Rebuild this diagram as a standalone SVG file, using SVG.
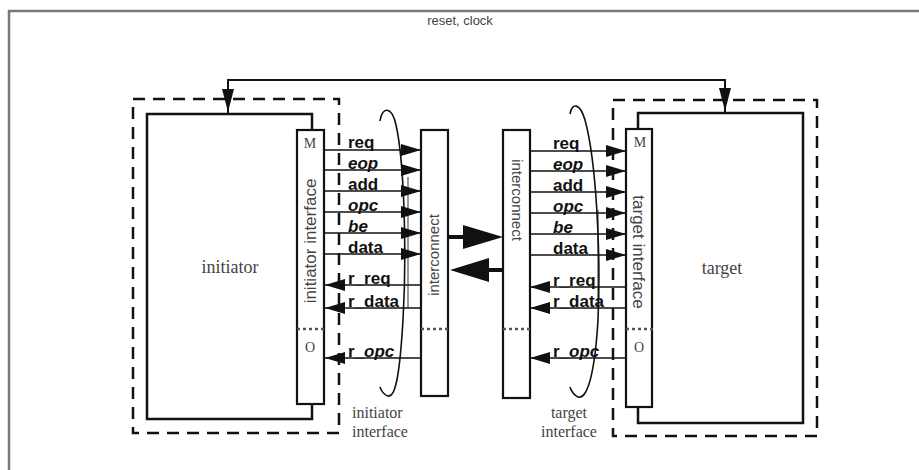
<svg xmlns="http://www.w3.org/2000/svg" width="919" height="470" viewBox="0 0 919 470">
<defs>
<marker id="ah" markerUnits="userSpaceOnUse" markerWidth="20" markerHeight="12" refX="20" refY="6" orient="auto">
<path d="M0,0 L20,6 L0,12 z" fill="#111"/>
</marker>
</defs>
<style>
.box{fill:#fff;stroke:#111;stroke-width:2.5}
.ifc{fill:#fff;stroke:#111;stroke-width:2.2}
.dash{fill:none;stroke:#111;stroke-width:2.5;stroke-dasharray:12 8}
.sig{stroke:#111;stroke-width:1.6;fill:none;marker-end:url(#ah)}
.lbl{font-family:"Liberation Sans",Arial,sans-serif;font-weight:bold;font-size:17px;fill:#111}
.ser{font-family:"Liberation Serif","Times New Roman",serif;fill:#444}
.sans{font-family:"Liberation Sans",Arial,sans-serif;fill:#444}
.dot{stroke:#555;stroke-width:2.5;stroke-dasharray:3 3}
.gray{stroke:#777;stroke-width:1.5}
.curve{fill:none;stroke:#111;stroke-width:1.6}
</style>
<rect width="919" height="470" fill="#fff"/>
<path d="M9,470 L9,11 L919,11" fill="none" stroke="#777" stroke-width="2.5"/>
<text class="sans" x="460" y="25" font-size="13" text-anchor="middle">reset, clock</text>

<g id="initiator-domain">
<rect class="dash" x="133" y="99" width="206" height="334"/>
</g>
<g id="target-domain">
<rect class="dash" x="613" y="100" width="204" height="336"/>
</g>

<g id="initiator">
<rect class="box" x="147" y="114" width="165" height="305"/>
<text class="ser" x="230" y="273" font-size="18" text-anchor="middle">initiator</text>
</g>
<g id="initiator-interface">
<rect class="ifc" x="297" y="130" width="27" height="274"/>
<text class="ser" x="310" y="148" font-size="14" text-anchor="middle">M</text>
<text class="ser" x="310" y="352" font-size="14" text-anchor="middle">O</text>
<text class="sans" transform="translate(316,241) rotate(-90)" font-size="17" text-anchor="middle">initiator interface</text>
<line class="dot" x1="297" y1="329" x2="325" y2="329"/>
</g>

<g id="target">
<rect class="box" x="638" y="113" width="165" height="310"/>
<text class="ser" x="722" y="274" font-size="18" text-anchor="middle">target</text>
</g>
<g id="target-interface">
<rect class="ifc" x="626" y="129" width="26" height="278"/>
<text class="ser" x="640" y="147" font-size="14" text-anchor="middle">M</text>
<text class="ser" x="639" y="352" font-size="14" text-anchor="middle">O</text>
<text class="sans" transform="translate(633,252) rotate(90)" font-size="17" text-anchor="middle">target interface</text>
<line class="dot" x1="626" y1="329" x2="653" y2="329"/>
</g>

<g id="interconnect-left">
<rect class="ifc" x="421" y="130" width="27" height="266"/>
<text class="sans" transform="translate(439,255) rotate(-90)" font-size="15" text-anchor="middle">interconnect</text>
<line class="dot" x1="421" y1="329" x2="448" y2="329"/>
</g>
<g id="interconnect-right">
<rect class="ifc" x="503" y="130" width="27" height="268"/>
<text class="sans" transform="translate(512,200) rotate(90)" font-size="15" text-anchor="middle">interconnect</text>
<line class="dot" x1="503" y1="329" x2="530" y2="329"/>
</g>

<g id="connectors">
<path d="M228,113 L228,80 L725,80 L725,112" fill="none" stroke="#111" stroke-width="2"/>
<polygon points="222,89 234,89 228,112" fill="#111"/>
<polygon points="719,88 731,88 725,111" fill="#111"/>

<line class="gray" x1="408" y1="177" x2="408" y2="308"/>
<line class="gray" x1="598" y1="210" x2="598" y2="307"/>

<line class="sig" x1="324" y1="150" x2="421" y2="150"/>
<line class="sig" x1="324" y1="170" x2="421" y2="170"/>
<line class="sig" x1="324" y1="191" x2="421" y2="191"/>
<line class="sig" x1="324" y1="212" x2="421" y2="212"/>
<line class="sig" x1="324" y1="233" x2="421" y2="233"/>
<line class="sig" x1="324" y1="254" x2="421" y2="254"/>
<line class="sig" x1="421" y1="285" x2="325" y2="285"/>
<line class="sig" x1="421" y1="308" x2="325" y2="308"/>
<line class="sig" x1="421" y1="358" x2="325" y2="358"/>

<line class="sig" x1="530" y1="151" x2="626" y2="151"/>
<line class="sig" x1="530" y1="171" x2="626" y2="171"/>
<line class="sig" x1="530" y1="192" x2="626" y2="192"/>
<line class="sig" x1="530" y1="213" x2="626" y2="213"/>
<line class="sig" x1="530" y1="234" x2="626" y2="234"/>
<line class="sig" x1="530" y1="255" x2="626" y2="255"/>
<line class="sig" x1="626" y1="287" x2="530" y2="287"/>
<line class="sig" x1="626" y1="308" x2="530" y2="308"/>
<line class="sig" x1="626" y1="358" x2="530" y2="358"/>

<line x1="448" y1="237" x2="465" y2="237" stroke="#111" stroke-width="4"/>
<polygon points="503,237 463,225 463,249" fill="#111"/>
<line x1="487" y1="270" x2="503" y2="270" stroke="#111" stroke-width="4"/>
<polygon points="450,270 489,258 489,282" fill="#111"/>

<path class="curve" d="M380,121 C382,106 392,106 396,125 C404,160 407,250 403,320 C400,370 396,398 388,396 C384,395 381,390 380,387"/>
<path class="curve" d="M570,114 C572,102 580,103 585,120 C596,160 601,250 598,320 C595,370 588,400 578,397 C574,395 571,390 570,387"/>
</g>

<g id="labels">
<text class="lbl" x="348" y="148">req</text>
<text class="lbl" x="348" y="169" font-style="italic">eop</text>
<text class="lbl" x="348" y="190">add</text>
<text class="lbl" x="348" y="211" font-style="italic">opc</text>
<text class="lbl" x="348" y="232" font-style="italic">be</text>
<text class="lbl" x="348" y="253">data</text>
<text class="lbl" x="348" y="284">r_req</text>
<text class="lbl" x="348" y="307">r_data</text>
<text class="lbl" x="348" y="357">r_<tspan font-style="italic">opc</tspan></text>

<text class="lbl" x="553" y="149">req</text>
<text class="lbl" x="553" y="170" font-style="italic">eop</text>
<text class="lbl" x="553" y="191">add</text>
<text class="lbl" x="553" y="212" font-style="italic">opc</text>
<text class="lbl" x="553" y="233" font-style="italic">be</text>
<text class="lbl" x="553" y="254">data</text>
<text class="lbl" x="553" y="286">r_req</text>
<text class="lbl" x="553" y="307">r_data</text>
<text class="lbl" x="553" y="357">r_<tspan font-style="italic">opc</tspan></text>

<text class="ser" x="352" y="418" font-size="16">initiator</text>
<text class="ser" x="352" y="437" font-size="16">interface</text>
<text class="ser" x="569" y="418" font-size="16" text-anchor="middle">target</text>
<text class="ser" x="569" y="437" font-size="16" text-anchor="middle">interface</text>
</g>
</svg>
